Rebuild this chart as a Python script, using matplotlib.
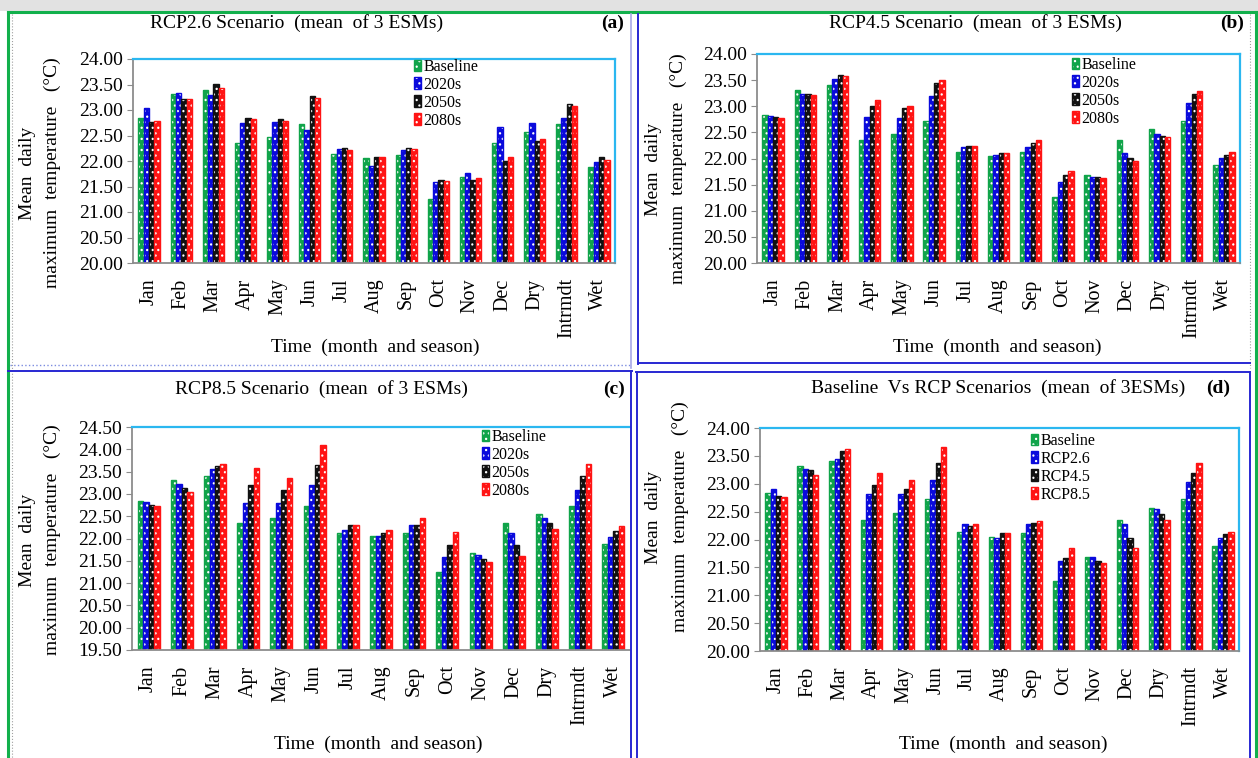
import numpy as np
import matplotlib
matplotlib.use("Agg")
import matplotlib.pyplot as plt
from matplotlib.patches import Patch, Rectangle
from matplotlib.lines import Line2D

# ---------------- data ----------------
periods = ["Jan", "Feb", "Mar", "Apr", "May", "Jun", "Jul", "Aug", "Sep",
           "Oct", "Nov", "Dec", "Dry", "Intrmdt", "Wet"]

baseline = [22.84, 23.32, 23.40, 22.35, 22.47, 22.72, 22.13, 22.05, 22.12,
            21.26, 21.68, 22.35, 22.56, 22.72, 21.88]

rcp26_2020s = [23.04, 23.34, 23.30, 22.74, 22.77, 22.61, 22.23, 21.90, 22.21,
               21.58, 21.76, 22.66, 22.74, 22.85, 21.98]
rcp26_2050s = [22.76, 23.21, 23.50, 22.85, 22.82, 23.28, 22.26, 22.07, 22.26,
               21.63, 21.63, 22.00, 22.40, 23.12, 22.07]
rcp26_2080s = [22.79, 23.21, 23.44, 22.82, 22.79, 23.24, 22.21, 22.07, 22.23,
               21.61, 21.66, 22.07, 22.44, 23.07, 22.01]

rcp45_2020s = [22.82, 23.23, 23.52, 22.79, 22.77, 23.19, 22.22, 22.07, 22.22,
               21.55, 21.64, 22.11, 22.46, 23.06, 22.01]
rcp45_2050s = [22.79, 23.23, 23.60, 23.01, 22.96, 23.44, 22.24, 22.10, 22.30,
               21.69, 21.64, 22.01, 22.44, 23.24, 22.07]
rcp45_2080s = [22.78, 23.22, 23.57, 23.12, 23.01, 23.51, 22.24, 22.10, 22.36,
               21.77, 21.63, 21.96, 22.41, 23.29, 22.12]

rcp85_2020s = [22.81, 23.23, 23.56, 22.80, 22.80, 23.20, 22.18, 22.06, 22.30,
               21.58, 21.64, 22.12, 22.45, 23.08, 22.03]
rcp85_2050s = [22.76, 23.14, 23.62, 23.21, 23.08, 23.65, 22.30, 22.12, 22.31,
               21.86, 21.54, 21.86, 22.35, 23.40, 22.16]
rcp85_2080s = [22.72, 23.04, 23.68, 23.59, 23.36, 24.10, 22.31, 22.18, 22.45,
               22.15, 21.47, 21.60, 22.22, 23.68, 22.29]

rcp26_mean = [22.90, 23.27, 23.45, 22.82, 22.82, 23.07, 22.27, 22.03, 22.27,
              21.62, 21.69, 22.27, 22.54, 23.04, 22.03]
rcp45_mean = [22.78, 23.25, 23.58, 22.97, 22.90, 23.38, 22.24, 22.11, 22.30,
              21.67, 21.62, 22.03, 22.45, 23.20, 22.09]
rcp85_mean = [22.76, 23.15, 23.63, 23.20, 23.07, 23.66, 22.27, 22.11, 22.33,
              21.85, 21.57, 21.85, 22.35, 23.38, 22.14]

period_labels = ["Baseline", "2020s", "2050s", "2080s"]
scenario_labels = ["Baseline", "RCP2.6", "RCP4.5", "RCP8.5"]

# ---------------- style ----------------
W, H = 1258, 758
COLORS = ["#10A44A", "#0A0ADC", "#111111", "#FF1414"]
SPINE_GRAY = "#8C8C8C"
SPINE_CYAN = "#2BB7F0"
FONT = "Liberation Serif"
HATCH = "..."
plt.rcParams["font.family"] = [FONT, "DejaVu Serif"]
plt.rcParams["hatch.linewidth"] = 0.9

fig = plt.figure(figsize=(W / 100, H / 100), dpi=100)


def fx(x):
    return x / W


def fy(y):
    return 1 - y / H


def px_axes(l, t, r, b):
    return fig.add_axes([fx(l), fy(b), (r - l) / W, (b - t) / H])


def draw_panel(box, series, labels, ylo, yhi, legend_xy, right_spine=True):
    ax = px_axes(*box)
    x = np.arange(len(periods))
    w = 0.165
    offsets = (np.arange(4) - 1.5) * w
    for vals, col, off in zip(series, COLORS, offsets):
        h = np.asarray(vals) - ylo
        ax.bar(x + off, h, w, bottom=ylo, color=col, edgecolor="white",
               hatch=HATCH, linewidth=0)
        ax.bar(x + off, h, w, bottom=ylo, fill=False, edgecolor=col,
               linewidth=1.0)
    ax.set_xlim(-0.5, len(periods) - 0.5)
    ax.set_ylim(ylo, yhi)
    ticks = np.arange(ylo, yhi + 0.01, 0.5)
    ax.set_yticks(ticks)
    ax.set_yticklabels([f"{v:.2f}" for v in ticks], fontsize=14)
    ax.set_xticks(x)
    ax.set_xticklabels(periods, rotation=90, fontsize=14.5)
    ax.tick_params(axis="x", length=0, pad=11)
    ax.tick_params(axis="y", length=4, color=SPINE_GRAY, pad=3, direction="out")
    for s in ("left", "bottom"):
        ax.spines[s].set_color(SPINE_GRAY)
        ax.spines[s].set_linewidth(1.3)
    ax.spines["top"].set_color(SPINE_CYAN)
    ax.spines["top"].set_linewidth(1.6)
    ax.spines["right"].set_color(SPINE_CYAN)
    ax.spines["right"].set_linewidth(1.6)
    ax.spines["right"].set_visible(right_spine)

    handles = [(Patch(facecolor=c, edgecolor="white", hatch=HATCH, lw=0),
                Patch(fill=False, edgecolor=c, lw=1.0)) for c in COLORS]
    ax.legend(handles, labels, loc="upper left",
              bbox_to_anchor=(fx(legend_xy[0]), fy(legend_xy[1])),
              bbox_transform=fig.transFigure, frameon=False, fontsize=11.5,
              handlelength=0.45, handleheight=0.75, handletextpad=0.15,
              labelspacing=0.12, borderpad=0, borderaxespad=0)
    return ax


def panel_text(title, title_xy, tag, tag_xy, xlab_xy, ylab_x, ylab_y):
    fig.text(fx(title_xy[0]), fy(title_xy[1]), title, fontsize=14,
             ha="center", va="center")
    fig.text(fx(tag_xy[0]), fy(tag_xy[1]), tag, fontsize=14,
             fontweight="bold", ha="center", va="center")
    fig.text(fx(xlab_xy[0]), fy(xlab_xy[1]), "Time  (month  and season)",
             fontsize=14, ha="center", va="center")
    fig.text(fx(ylab_x[0]), fy(ylab_y), "Mean  daily", fontsize=14,
             rotation=90, ha="center", va="center")
    fig.text(fx(ylab_x[1]), fy(ylab_y), "maximum  temperature   (\u00b0C)",
             fontsize=14, rotation=90, ha="center", va="center")


# ---------------- panels ----------------
draw_panel((133, 59, 615, 263), [baseline, rcp26_2020s, rcp26_2050s, rcp26_2080s],
           period_labels, 20.0, 24.0, (414, 59))
panel_text("RCP2.6 Scenario  (mean  of 3 ESMs)", (297, 23), "(a)", (613, 23),
           (375, 347), (28, 52), 173)

draw_panel((757, 54, 1240, 263), [baseline, rcp45_2020s, rcp45_2050s, rcp45_2080s],
           period_labels, 20.0, 24.0, (1072, 57))
panel_text("RCP4.5 Scenario  (mean  of 3 ESMs)", (975, 23), "(b)", (1232, 23),
           (997, 347), (654, 678), 169)

draw_panel((132, 427, 630, 650), [baseline, rcp85_2020s, rcp85_2050s, rcp85_2080s],
           period_labels, 19.5, 24.5, (482, 429), right_spine=False)
panel_text("RCP8.5 Scenario  (mean  of 3 ESMs)", (321, 389), "(c)", (614, 389),
           (378, 744), (28, 52), 540)

draw_panel((760, 428, 1239, 651), [baseline, rcp26_mean, rcp45_mean, rcp85_mean],
           scenario_labels, 20.0, 24.0, (1031, 433))
panel_text("Baseline  Vs RCP Scenarios  (mean  of 3ESMs)", (998, 388), "(d)",
           (1218, 388), (1003, 744), (654, 680), 517)

# ---------------- frames ----------------
fig.patches.append(Rectangle((0, fy(11)), 1, 11 / H, transform=fig.transFigure,
                             facecolor="#E2E2E2", edgecolor="none", zorder=-5))


def hline(y, x0, x1, color, lw, ls="-"):
    fig.add_artist(Line2D([fx(x0), fx(x1)], [fy(y), fy(y)], color=color,
                          lw=lw, ls=ls, transform=fig.transFigure))


def vline(x, y0, y1, color, lw, ls="-"):
    fig.add_artist(Line2D([fx(x), fx(x)], [fy(y0), fy(y1)], color=color,
                          lw=lw, ls=ls, transform=fig.transFigure))


GREEN = "#12B04C"
BLUE = "#2828D2"
hline(12, 8, 1258, GREEN, 2.2)
vline(8, 12, 758, GREEN, 2.2)
vline(1256, 12, 758, GREEN, 2.2)
vline(12, 14, 758, "#A0A0A0", 0.8, ":")
vline(1250, 14, 368, "#A0A0A0", 0.8, ":")
hline(365, 10, 630, "#7C8CE0", 1.0, ":")
vline(631, 14, 368, "#A8A8E8", 1.2)
vline(638, 14, 364, BLUE, 1.4)
hline(363, 638, 1250, BLUE, 1.4)
hline(371, 8, 632, BLUE, 1.4)
vline(631, 371, 758, BLUE, 1.4)
hline(372, 636, 1250, BLUE, 1.4)
vline(637, 372, 758, BLUE, 1.4)
vline(1250, 372, 758, BLUE, 1.4)

fig.savefig("out.png", dpi=100)
